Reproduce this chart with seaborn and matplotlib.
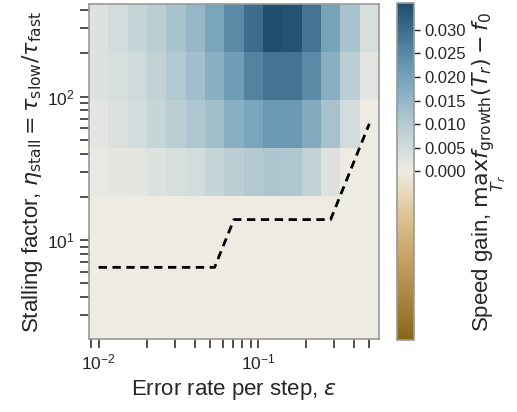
import numpy as np
import matplotlib
matplotlib.use("Agg")
import matplotlib.pyplot as plt
import seaborn as sns
from matplotlib.colors import LinearSegmentedColormap

### Data ----------------------------------------------------------------------
# error rate per step (column centres)
eps = [0.0100, 0.01322, 0.01748, 0.02312, 0.03057, 0.04043, 0.05346, 0.07070,
       0.09350, 0.1236, 0.1635, 0.2162, 0.2859, 0.3781, 0.500]
# stalling factor (row centres)
eta = [3.0, 6.46, 13.9, 30.0, 64.6, 139.0, 300.0]

# speed gain, one list per eta row (bottom -> top)
gain_3 = [0.0] * 15
gain_6 = [0.0] * 15
gain_14 = [0.0, 0.0, 0.0, 0.0002, 0.0002, 0.0002, 0.0, 0.0, 0.0, 0.0, 0.0, 0.0, 0.0, 0.0, 0.0]
gain_30 = [0.001, 0.0015, 0.002, 0.003, 0.004, 0.005, 0.0075, 0.009, 0.0105, 0.0115,
           0.011, 0.008, 0.003, 0.0, 0.0]
gain_65 = [0.002, 0.0035, 0.005, 0.007, 0.009, 0.011, 0.013, 0.017, 0.019, 0.022,
           0.022, 0.018, 0.0125, 0.005, 0.0]
gain_139 = [0.003, 0.004, 0.0055, 0.008, 0.0105, 0.013, 0.017, 0.021, 0.026, 0.029,
            0.029, 0.025, 0.017, 0.009, 0.002]
gain_300 = [0.003, 0.005, 0.0075, 0.009, 0.012, 0.015, 0.019, 0.025, 0.030, 0.0357,
            0.0348, 0.029, 0.020, 0.012, 0.004]

# dashed boundary: eta at which the gain turns positive, per column
eta_threshold = [6.46] * 7 + [13.9] * 6 + [30.0, 64.6]

gain = np.array([gain_3, gain_6, gain_14, gain_30, gain_65, gain_139, gain_300])

### Style ---------------------------------------------------------------------
sns.set_theme(style="ticks")
plt.rcParams['font.family'] = ['Liberation Sans', 'DejaVu Sans']
plt.rcParams['mathtext.fontset'] = 'dejavusans'

cmap = LinearSegmentedColormap.from_list("speed", [
    (0.00, "#8a6619"), (0.12, "#a8843f"), (0.25, "#c6a665"), (0.37, "#dcc496"),
    (0.44, "#e8d9be"), (0.50, "#efebe3"), (0.57, "#d2dcdc"), (0.64, "#b6cbd2"),
    (0.71, "#97b7c8"), (0.78, "#76a2ba"), (0.85, "#5a8aa5"), (0.92, "#3f6e8c"),
    (1.00, "#1f4e6e")])

# cell edges from log midpoints of the centres
def log_edges(c):
    lc = np.log10(c)
    mid = (lc[1:] + lc[:-1]) / 2
    first = lc[0] - (mid[0] - lc[0])
    last = lc[-1] + (lc[-1] - mid[-1])
    return 10 ** np.concatenate([[first], mid, [last]])

x_edges = log_edges(np.array(eps))
y_edges = log_edges(np.array(eta))

vmax = np.abs(gain).max()

### Plot ----------------------------------------------------------------------
fig = plt.figure(figsize=(5.17, 4.12), dpi=100)
ax = fig.add_axes([0.172, 0.177, 0.561, 0.813])
cax = fig.add_axes([0.768, 0.175, 0.033, 0.818])

mesh = ax.pcolormesh(x_edges, y_edges, gain, cmap=cmap, vmin=-vmax, vmax=vmax,
                     shading='flat', linewidth=0, rasterized=True)
sns.lineplot(x=eps, y=eta_threshold, ax=ax, color='black', linestyle='--',
             linewidth=2)
ax.lines[-1].set_dashes((3, 2))

ax.set_xscale('log')
ax.set_yscale('log')
ax.set_xlim(x_edges[0], x_edges[-1])
ax.set_ylim(y_edges[0], y_edges[-1])

ax.set_xlabel(r"Error rate per step, $\varepsilon$", fontsize=16, color='#262626')
ax.set_ylabel(r"Stalling factor, $\eta_{\mathrm{stall}} = \tau_{\mathrm{slow}}/\tau_{\mathrm{fast}}$",
              fontsize=16, color='#262626', labelpad=2)

ax.tick_params(which='both', direction='out', length=6.5, width=1.1, color='#222222',
               labelsize=12.5, labelcolor='#262626')
for s in ax.spines.values():
    s.set_color('#999999')
    s.set_linewidth(1.2)

cb = fig.colorbar(mesh, cax=cax)
cb.set_ticks([0.000, 0.005, 0.010, 0.015, 0.020, 0.025, 0.030])
cb.ax.set_yticklabels(["0.000", "0.005", "0.010", "0.015", "0.020", "0.025", "0.030"])
cb.ax.tick_params(length=4, width=1.0, labelsize=12, color='#222222', labelcolor='#262626')
cb.outline.set_edgecolor('#999999')
cb.outline.set_linewidth(1.2)
cb.set_label(r"Speed gain, $\max_{T_r} f_{\mathrm{growth}}(T_r) - f_0$",
             fontsize=16, color='#262626', labelpad=3)

fig.savefig("out.png", dpi=100)
